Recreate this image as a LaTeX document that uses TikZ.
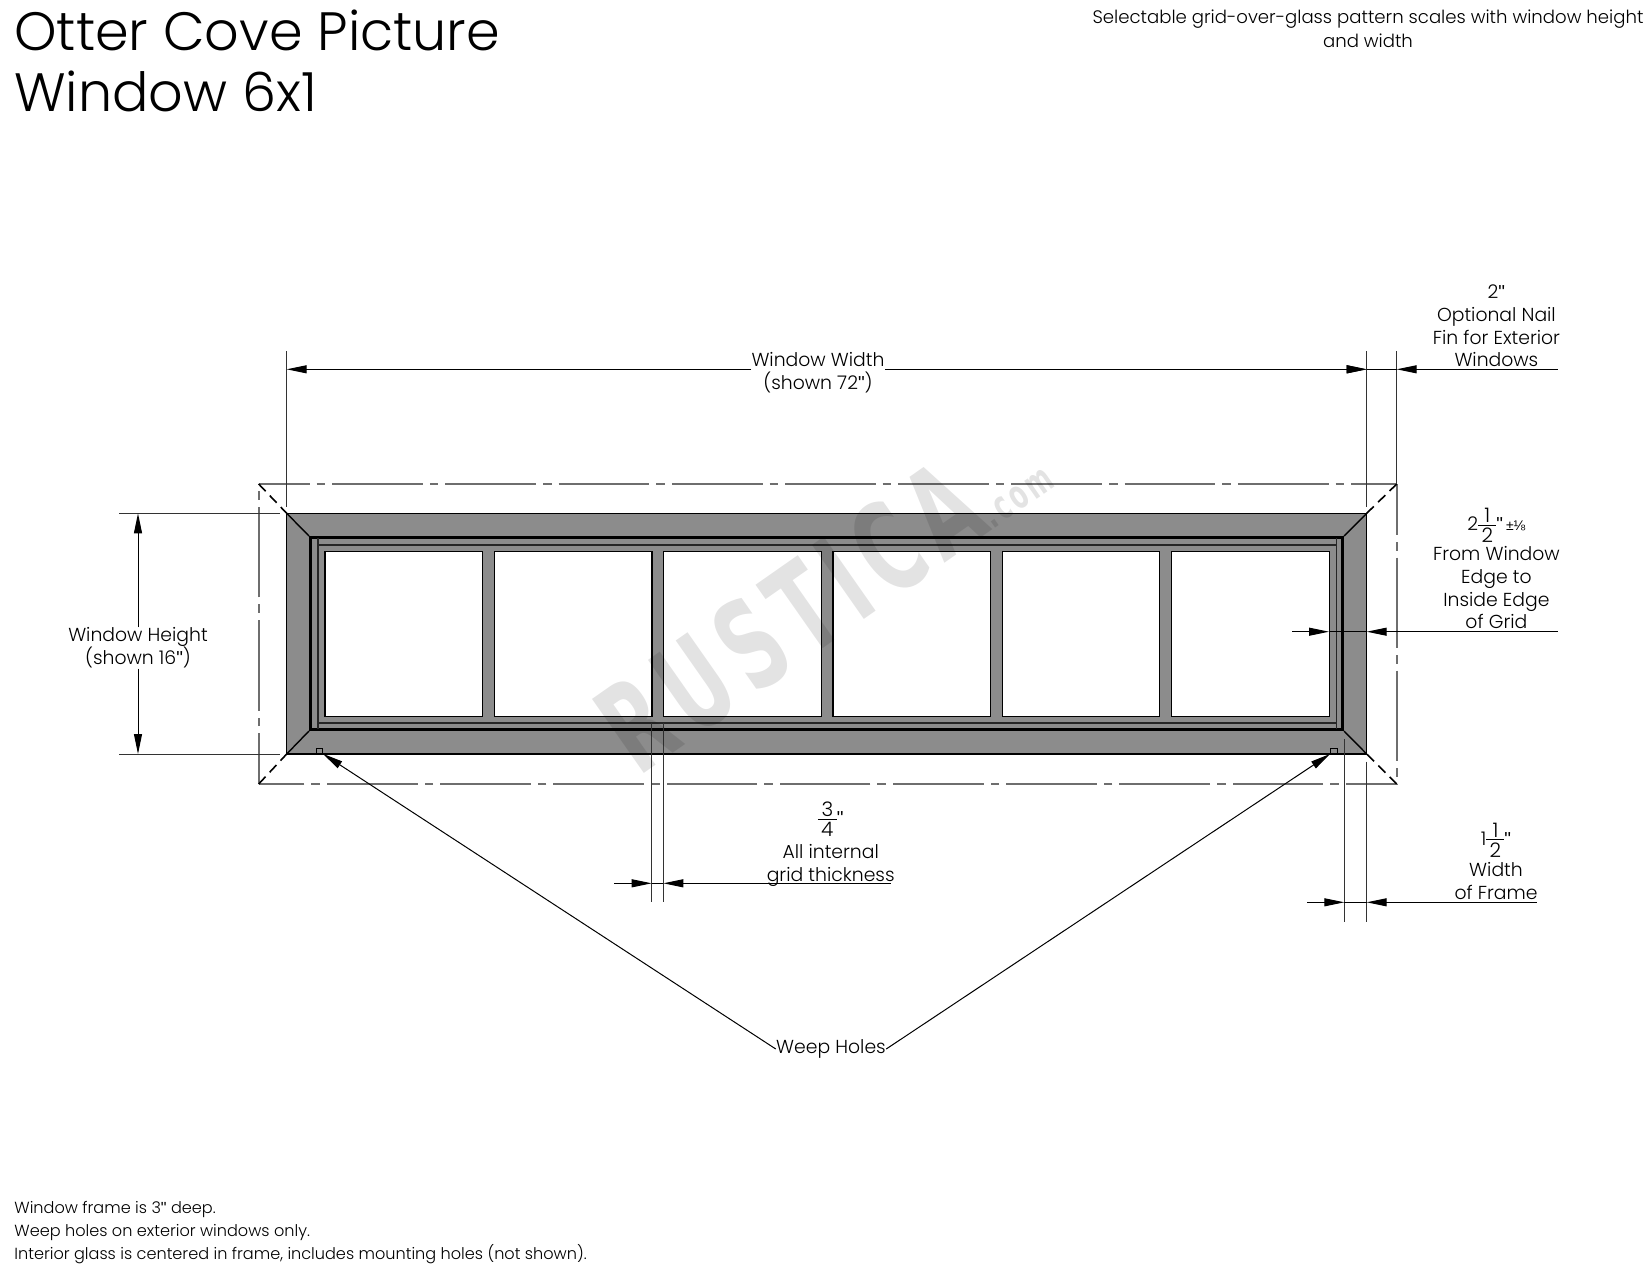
\documentclass[tikz,border=0pt]{standalone}
\usepackage{amsmath}
\usepackage{fontspec}
\setmainfont{Poppins}[UprightFont={* Light}]
\newfontfamily\markfont{DejaVu Sans}[FakeStretch=0.62,LetterSpace=8]
\newfontfamily\inchfont{Liberation Sans}
\usetikzlibrary{arrows.meta,positioning}
\definecolor{framegray}{HTML}{8C8C8C}
\definecolor{chaingray}{HTML}{6E6E6E}
\tikzset
{
    framepart/.style = {draw=black, line width=0.6pt},
    pane/.style      = {draw=black, fill=white, line width=0.6pt},
    extline/.style   = {draw=black!80, line width=0.5pt},
    dimline/.style   = {draw=black, line width=0.5pt, >={Triangle[length=10pt,width=4pt]}},
    chain/.style     = {draw=chaingray, line width=0.8pt, dash pattern=on 45.35pt off 3.5pt on 4.25pt off 3.5pt, dash phase=#1},
    miter/.style     = {draw=black, line width=0.8pt, dash pattern=on 5pt off 3pt},
    dimtext/.style   = {align=center, inner sep=0pt, font=\fontsize{9.4pt}{11.35pt}\selectfont},
    notetext/.style  = {align=center, inner sep=0pt, font=\fontsize{9.05pt}{12pt}\selectfont},
    foottext/.style  = {align=left, anchor=north west, inner sep=0pt, font=\fontsize{8.05pt}{11.35pt}\selectfont},
    titletext/.style = {align=left, anchor=north west, inner sep=0pt, font=\fontsize{27pt}{30.5pt}\selectfont}
}
\newcommand\halffrac[2]{{\fontsize{10pt}{11pt}\selectfont\ensuremath{\vcenter{\offinterlineskip\halign{\hfil\,##\,\hfil\cr #1\cr\noalign{\vskip1.2pt\hrule height0.4pt\vskip1.2pt}#2\cr}}}}}
\newcommand\inch{{\inchfont"}}
\begin{document}
\begin{tikzpicture}[x=0.5pt, y=-0.5pt]
   \useasboundingbox (0, 0) rectangle (1650, 1275);
   \newcommand\PANEW{157.6}
   \newcommand\PITCH{169.3}

   % frame
   \coordinate (ftl) at (286.7, 513.3);
   \coordinate (ftr) at (1366.7, 513.3);
   \coordinate (fbl) at (286.7, 754);
   \coordinate (fbr) at (1366.7, 754);
   \coordinate (itl) at (309, 536);
   \coordinate (itr) at (1344, 536);
   \coordinate (ibl) at (309, 731);
   \coordinate (ibr) at (1344, 731);
   \coordinate (otl) at (258.7, 484);
   \coordinate (otr) at (1396.7, 484);
   \coordinate (obl) at (258.7, 784);
   \coordinate (obr) at (1396.7, 784);

   \draw[framepart, fill=framegray] (ftl) rectangle (fbr);
   \foreach \i in {0,...,5}
      \draw[pane] ({325+\i*\PITCH}, 551.7) rectangle ++(\PANEW, 164.6);
   \draw[black, line width=1.6pt] (310.6, 537.4) rectangle (1342.4, 729.7);
   \draw[black!85, line width=0.8pt] (318, 538) -- (318, 729);
   \draw[black!85, line width=0.8pt] (1336.5, 538) -- (1336.5, 729);
   \draw[black!85, line width=0.8pt] (318, 544.7) -- (1336.5, 544.7);
   \draw[black!85, line width=0.6pt] (318, 723) -- (1336.5, 723);
   \foreach \a/\b in {ftl/itl, ftr/itr, fbl/ibl, fbr/ibr}
      \draw[black, line width=0.7pt] (\a) -- (\b);

   % nail fin outline
   \draw[chain=19.85pt] (otl) -- (otr);
   \draw[chain=19.85pt] (otr) -- (obr);
   \draw[chain=19.85pt] (obr) -- (obl);
   \draw[chain=19.85pt] (obl) -- (otl);
   \foreach \a/\b in {otl/ftl, otr/ftr, obl/fbl, obr/fbr}
      \draw[miter] (\a) -- (\b);

   % weep holes
   \node (wl) [framepart, fill=framegray, minimum width=3.2pt, minimum height=2.3pt, inner sep=0pt] at (319.3, 751) {};
   \node (wr) [framepart, fill=framegray, minimum width=3.2pt, minimum height=2.3pt, inner sep=0pt] at (1334, 751) {};
   \node (weep) [dimtext] at (831, 1049) {Weep Holes};
   \draw[dimline, ->] (weep.west) -- (wl.south east);
   \draw[dimline, ->] (weep.east) -- (wr.south west);

   % width
   \draw[extline] (286.7, 351) -- (286.7, 506.7);
   \draw[extline] (1366.7, 351) -- (1366.7, 506.7);
   \draw[extline] (1396.7, 351) -- (otr);
   \node (wwidth) [dimtext] at (818, 373) {Window Width\\(shown 72\inch)};
   \draw[dimline, ->] (wwidth.north west |- 0, 369.3) -- (286.7, 369.3);
   \draw[dimline, ->] (wwidth.north east |- 0, 369.3) -- (1366.7, 369.3);

   % nail fin
   \node (fin) [dimtext] at (1496.4, 326) {2\inch\\Optional Nail\\Fin for Exterior\\Windows};
   \draw[dimline, <-] (1366.7, 369.3) -- (1347, 369.3);
   \draw[dimline] (1366.7, 369.3) -- (1396.7, 369.3);
   \draw[dimline, <-] (1396.7, 369.3) -- (1558, 369.3);

   % height
   \draw[extline] (119, 513.3) -- (280, 513.3);
   \draw[extline] (119, 754) -- (280, 754);
   \node (wheight) [dimtext] at (138, 648) {Window Height\\(shown 16\inch)};
   \draw[dimline, ->] (wheight.north -| 138, 0) -- (138, 513.3);
   \draw[dimline, ->] (wheight.south -| 138, 0) -- (138, 754);

   % grid edge
   \node (edge) [dimtext] at (1496.4, 568.6) {2\halffrac{1}{2}\inch$\,${\inchfont\fontsize{7pt}{7pt}\selectfont ±⅛}\\[1pt]From Window\\Edge to\\Inside Edge\\of Grid};
   \draw[dimline, <-] (1329, 631.7) -- (1291.7, 631.7);
   \draw[dimline] (1329, 631.7) -- (1366.7, 631.7);
   \draw[dimline, <-] (1366.7, 631.7) -- (1558, 631.7);

   % frame width
   \draw[extline] (1344.3, 739) -- (1344.3, 921.7);
   \draw[extline] (1366.7, 761.7) -- (1366.7, 921.7);
   \node (fwidth) [dimtext] at (1496, 861) {1\halffrac{1}{2}\inch\\[1.5pt]Width\\of Frame};
   \draw[dimline, <-] (1344.3, 902.3) -- (1306.7, 902.3);
   \draw[dimline] (1344.3, 902.3) -- (1366.7, 902.3);
   \draw[dimline, <-] (1366.7, 902.3) -- (1536.7, 902.3);

   % grid thickness
   \draw[extline] (651.7, 723) -- (651.7, 902);
   \draw[extline] (663.3, 723) -- (663.3, 902);
   \node (gthick) [dimtext] at (830.7, 844) {\halffrac{3}{4}\inch\\[3pt]All internal\\grid thickness};
   \draw[dimline, <-] (651.7, 883.3) -- (614, 883.3);
   \draw[dimline] (651.7, 883.3) -- (663.3, 883.3);
   \draw[dimline, <-] (663.3, 883.3) -- (891, 883.3);

   % texts
   \node (title) [titletext] at (14, 9) {Otter Cove Picture\\Window 6x1};
   \node (note) [notetext] at (1368, 29) {Selectable grid-over-glass pattern scales with window height\\and width};
   \node (foot) [foottext] at (14, 1201) {Window frame is 3\inch{} deep.\\Weep holes on exterior windows only.\\Interior glass is centered in frame, includes mounting holes (not shown).};

   % watermark
   \node (mark) [inner sep=0pt, rotate=35, text=black, text opacity=0.11, anchor=base west] at (638, 778) {\markfont\bfseries\fontsize{62pt}{62pt}\selectfont RUSTICA{\fontsize{20pt}{20pt}\selectfont.com}};
\end{tikzpicture}
\end{document}
